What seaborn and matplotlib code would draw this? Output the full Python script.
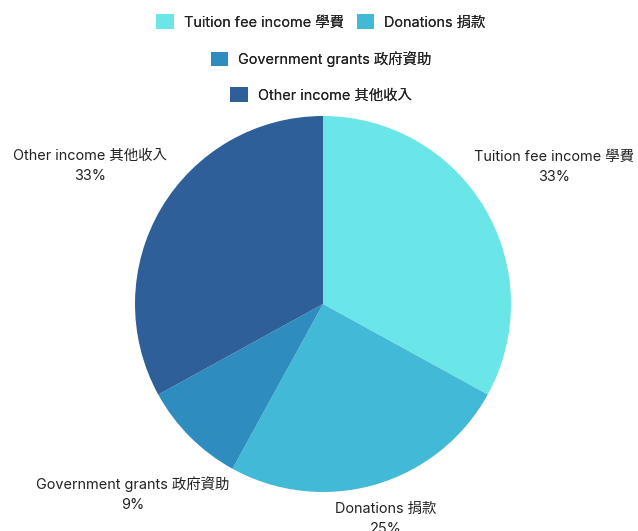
import matplotlib
matplotlib.use("Agg")
import matplotlib.pyplot as plt
import seaborn as sns
import numpy as np
from matplotlib.patches import Patch

categories = ["Tuition fee income 學費", "Donations 捐款", "Government grants 政府資助", "Other income 其他收入"]
values = [33, 25, 9, 33]
colors = ["#6ae6e8", "#43b9d8", "#2e8cbf", "#2e5f99"]
label_dist = [1.43, 1.19, 1.43, 1.44]

sns.set_theme(style="white")
plt.rcParams['font.family'] = ['Inter', 'Noto Sans CJK TC', 'DejaVu Sans']

fig = plt.figure(figsize=(6.38, 5.31), dpi=100)
ax = fig.add_axes([135/638, 39/531, 376/638, 376/531])
palette = sns.color_palette(colors)
wedges, _ = ax.pie(values, colors=palette, startangle=90, counterclock=False,
                   radius=1.0, wedgeprops=dict(linewidth=0))
ax.set_xlim(-1, 1)
ax.set_ylim(-1, 1)
ax.set_aspect('equal')
ax.axis('off')

total = sum(values)
for w, cat, v, d in zip(wedges, categories, values, label_dist):
    ang = np.deg2rad((w.theta1 + w.theta2) / 2)
    x, y = d * np.cos(ang), d * np.sin(ang)
    ax.text(x, y, f"{cat}\n{round(v / total * 100)}%", ha='center', va='center',
            fontsize=10.4, color='#222222', linespacing=1.6, clip_on=False)

handles = [Patch(facecolor=c, edgecolor='none') for c in palette]
rows = [([0, 1], 22), ([2], 59), ([3], 95)]
for idx, ypx in rows:
    leg = fig.legend([handles[i] for i in idx], [categories[i] for i in idx],
                     loc='center', bbox_to_anchor=(0.503, 1 - ypx / 531), ncol=len(idx),
                     frameon=False, fontsize=10.4, handlelength=1.2, handleheight=1.2,
                     handletextpad=0.7, columnspacing=0.9, borderpad=0, borderaxespad=0)
    for t in leg.get_texts():
        t.set_color('#222222')
    fig.add_artist(leg)

fig.savefig("out.png", dpi=100)
